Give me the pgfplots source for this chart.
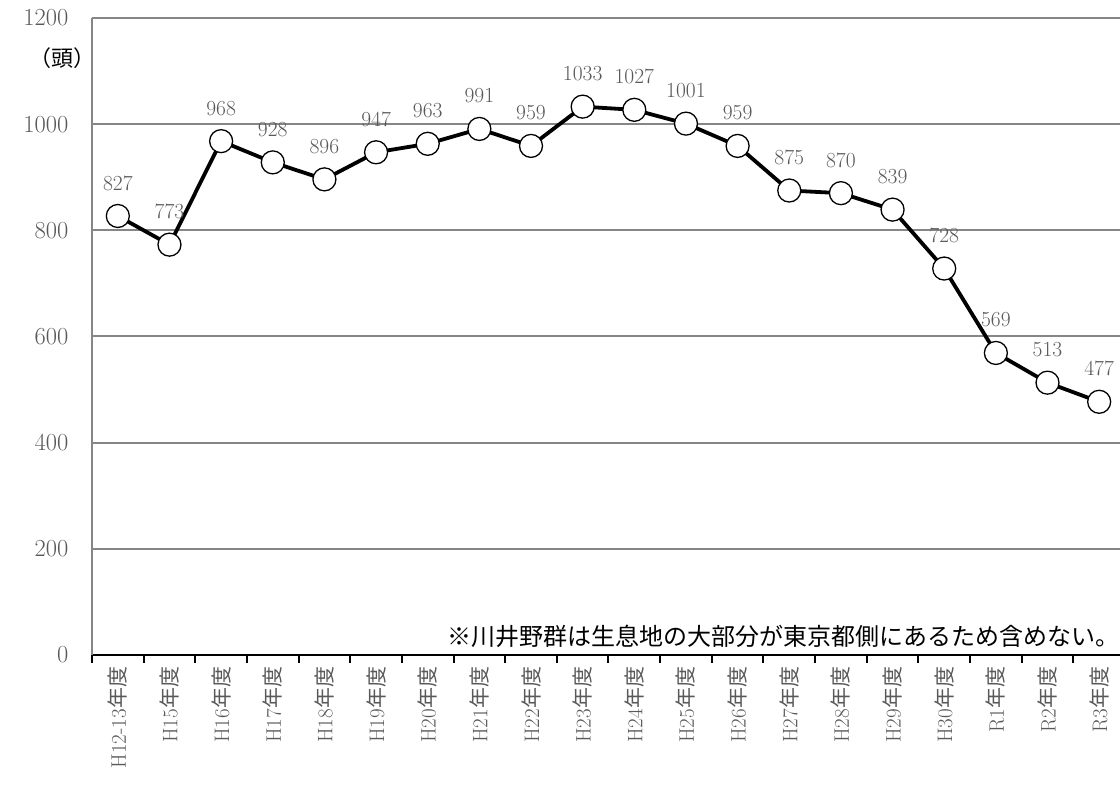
\documentclass[border=0pt]{standalone}
\usepackage{fontspec}
\usepackage{pgfplots}
\pgfplotsset{compat=1.18}
\newfontfamily\cjk{Noto Sans CJK JP}
\definecolor{labgray}{HTML}{595959}
\definecolor{gridgray}{HTML}{868686}
\begin{document}
\begin{tikzpicture}
\useasboundingbox (0,0) rectangle (1120pt,789pt);
\begin{axis}[
  at={(92pt,134pt)}, anchor=south west,
  scale only axis, width=1033pt, height=637pt,
  xmin=-0.5, xmax=19.5, ymin=0, ymax=1200,
  ytick={0,200,...,1200},
  axis x line=bottom, axis y line=left,
  x axis line style={black, line width=2pt, -},
  y axis line style={gridgray, line width=2pt, -},
  ymajorgrids, grid style={gridgray, line width=2pt},
  ytick style={draw=none},
  /pgf/number format/1000 sep={},
  /pgf/number format/assume math mode=true,
  yticklabel style={font=\fontsize{24.5}{28}\selectfont, text=labgray, xshift=-18pt},
  xtick={0,...,19},
  xticklabels={H12-13{\cjk 年度},H15{\cjk 年度},H16{\cjk 年度},H17{\cjk 年度},H18{\cjk 年度},H19{\cjk 年度},H20{\cjk 年度},H21{\cjk 年度},H22{\cjk 年度},H23{\cjk 年度},H24{\cjk 年度},H25{\cjk 年度},H26{\cjk 年度},H27{\cjk 年度},H28{\cjk 年度},H29{\cjk 年度},H30{\cjk 年度},R1{\cjk 年度},R2{\cjk 年度},R3{\cjk 年度}},
  major x tick style={draw=none},
  minor xtick={-0.5,0.5,...,19.5},
  minor x tick style={black, line width=2pt},
  minor tick length=8pt,
  xtick align=outside,
  xticklabel style={font=\fontsize{21}{24}\selectfont, text=labgray, rotate=90, anchor=east, xshift=-4pt},
  clip=false,
  every node near coord/.append style={anchor=center, yshift=33pt, font=\fontsize{21.5}{24}\selectfont, text=labgray},
]
\addplot[black, line width=3.8pt, mark=*, mark size=11.5pt,
  mark options={fill=white, draw=black, line width=1.3pt},
  nodes near coords] coordinates {
  (0,827) (1,773) (2,968) (3,928) (4,896) (5,947) (6,963) (7,991) (8,959) (9,1033)
  (10,1027) (11,1001) (12,959) (13,875) (14,870) (15,839) (16,728) (17,569) (18,513) (19,477)
};
\node[anchor=center, font=\cjk\fontsize{22}{26}\selectfont, text=black] at (axis description cs:-0.029,0.937) {（頭）};
\node[anchor=east, font=\cjk\fontsize{24}{26}\selectfont, text=black, xshift=3pt] at (axis description cs:0.995,0.03) {※川井野群は生息地の大部分が東京都側にあるため含めない。};
\end{axis}
\end{tikzpicture}
\end{document}
